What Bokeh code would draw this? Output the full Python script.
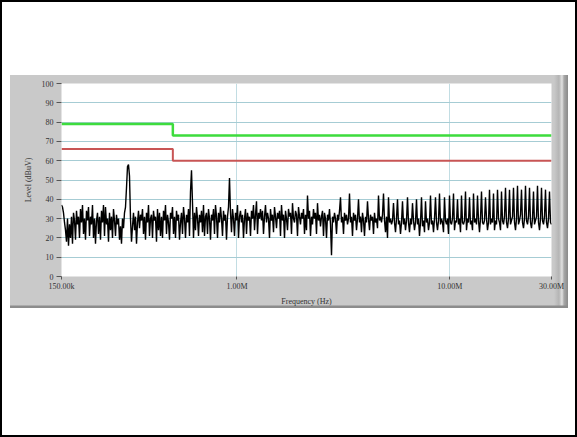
import numpy as np
from bokeh.plotting import figure
from bokeh.models import FixedTicker, Spacer
from bokeh.layouts import column, row
from bokeh.embed import file_html
from bokeh.resources import INLINE

# ---- data ----
x_ticks = [150e3, 1e6, 10e6, 30e6]
x_tick_labels = ["150.00k", "1.00M", "10.00M", "30.00M"]
y_ticks = [0, 10, 20, 30, 40, 50, 60, 70, 80, 90, 100]

limit_qp_freq = [150e3, 500e3, 500e3, 30e6]
limit_qp_level = [79, 79, 73, 73]
limit_av_freq = [150e3, 500e3, 500e3, 30e6]
limit_av_level = [66, 66, 60, 60]

trace_a = [37, 36, 33, 28, 24, 18, 30, 16, 27, 20, 31, 17, 33, 29, 19, 34, 27, 31, 20, 35,
           28, 37, 22, 30, 19, 34, 29, 36, 21, 31, 27, 37, 20, 30, 17, 29, 33, 22, 31, 19,
           34, 28, 37, 21, 36, 27, 30, 18, 33, 24, 31, 20, 35, 29, 21, 32, 27, 30, 19, 26,
           17, 30, 25, 33, 36, 46, 57, 58, 52, 30, 18, 26, 33, 24, 31, 17, 28, 34, 25, 32,
           29, 35, 22, 31, 19, 33, 28, 37, 21, 30, 32, 20, 34, 29, 31, 18, 35, 24, 33, 21]
trace_b = [31, 20, 34, 29, 37, 22, 32, 28, 19, 33, 30, 36, 22, 31, 20, 34, 29, 32, 19, 28,
           33, 22, 36, 30, 20, 32, 28, 35, 21, 44, 55, 38, 20, 33, 24, 36, 30, 21, 32, 28,
           34, 23, 37, 21, 31, 33, 22, 35, 30, 19, 32, 29, 35, 22, 37, 31, 20, 33, 28, 36,
           30, 21, 34, 29, 32, 19, 31, 36, 51, 33, 23, 35, 30, 21, 33, 29, 37, 20, 31, 34,
           28, 32, 20, 30, 35, 22, 33, 29, 31, 21, 34, 30, 37, 24, 32, 39, 22, 33, 30, 35]
trace_c = [29, 34, 22, 31, 37, 28, 33, 30, 20, 35, 29, 32, 23, 36, 31, 25, 33, 30, 34, 21,
           37, 29, 32, 20, 34, 30, 24, 35, 31, 33, 22, 38, 30, 28, 34, 32, 21, 36, 31, 27,
           33, 30, 35, 22, 32, 24, 42, 30, 34, 21, 31, 27, 35, 30, 33, 22, 38, 29, 32, 26,
           31, 34, 21, 33, 30, 20, 32, 29, 35, 27, 11, 31, 28, 33, 30, 22, 32, 29, 34, 41,
           28, 31, 22, 33, 29, 32, 27, 30, 43, 28, 31, 21, 33, 29, 32, 24, 30, 40, 28, 31,
           23, 33, 29, 21, 31, 28, 39, 30, 24, 32, 29, 31, 22, 33, 28, 30, 25, 42, 29, 31,
           28, 32, 43, 29, 23, 31, 20, 41, 28, 30]
trace_d = [27, 29, 38, 28, 23, 30, 40, 27, 29, 22, 28, 39, 27, 30, 24, 29, 41, 28, 23, 30,
           27, 38, 29, 24, 28, 40, 27, 30, 21, 28, 41, 26, 29, 23, 39, 28, 30, 24, 28, 42,
           27, 29, 23, 30, 41, 28, 24, 29, 43, 27, 30, 28, 23, 41, 29, 27, 30, 22, 42, 28,
           27, 30, 43, 24, 29, 28, 40, 27, 30, 23, 42, 28, 27, 29, 44, 24, 30, 28, 41, 27,
           29, 24, 43, 28, 30, 27, 42, 29, 23, 30, 44, 28, 27, 29, 41, 30, 24, 28, 45, 27,
           30, 28, 43, 24, 29, 27, 45, 30, 28, 24, 44, 29, 27, 31, 46, 28, 25, 30, 45, 27,
           29, 31, 46, 28, 24, 30, 47, 27, 29, 32, 45, 28, 25, 30, 47, 29, 27, 31, 46, 28,
           25, 30, 44, 27, 29, 31, 47, 28, 24, 30, 46, 29, 27, 31, 45, 28, 25, 30, 44, 28, 27]

levels = trace_a + trace_b + trace_c + trace_d
freqs = np.geomspace(150e3, 30e6, len(levels))  # sweep grid

# ---- figure ----
FONT = "Liberation Serif"

p = figure(x_axis_type="log", x_range=(150e3, 30e6), y_range=(0, 100),
           frame_width=490, frame_height=193,
           min_border_left=51, min_border_right=17, min_border_top=8, min_border_bottom=32,
           output_backend="svg", toolbar_location=None)
p.background_fill_color = "white"
p.border_fill_alpha = 0
p.outline_line_color = None
p.styles = {
    "background": "linear-gradient(to bottom, rgba(0,0,0,0) 230px, #8c8c8c 231px), "
                  "linear-gradient(to right, #c9c9c9 0px, #c9c9c9 544px, #b4b4b4 549px, "
                  "#e2e2e2 552px, #a8a8a8 554px, #8a8a8a 558px)"
}

p.line(limit_qp_freq, limit_qp_level, line_color="#3ddc3d", line_width=2.5)
p.line(limit_av_freq, limit_av_level, line_color="#c85555", line_width=2)
p.line(freqs, levels, line_color="black", line_width=1.4)

p.xaxis.ticker = FixedTicker(ticks=x_ticks, minor_ticks=[])
p.xaxis.major_label_overrides = {t: l for t, l in zip(x_ticks, x_tick_labels)}
p.yaxis.ticker = FixedTicker(ticks=y_ticks, minor_ticks=[])

for ax in (p.xaxis[0], p.yaxis[0]):
    ax.axis_line_color = None
    ax.major_tick_in = 0
    ax.major_tick_line_color = "#555555"
    ax.minor_tick_line_color = None
    ax.major_label_text_font = FONT
    ax.major_label_text_font_size = "8px"
    ax.major_label_text_color = "#333333"
    ax.axis_label_text_font = FONT
    ax.axis_label_text_font_size = "8px"
    ax.axis_label_text_font_style = "normal"
    ax.axis_label_text_color = "#333333"

p.xaxis.major_tick_out = 3
p.xaxis.major_label_standoff = 2
p.xaxis.axis_label = "Frequency (Hz)"
p.xaxis.axis_label_standoff = 3
p.yaxis.major_tick_out = 5
p.yaxis.major_label_standoff = 3
p.yaxis.axis_label = "Level (dBuV)"
p.yaxis.axis_label_standoff = 6

p.xgrid.ticker = FixedTicker(ticks=[1e6, 10e6], minor_ticks=[])
p.xgrid.grid_line_color = "#c2dde3"
p.ygrid.grid_line_color = "#a6ccd4"

layout = column(
    Spacer(width=577, height=75),
    row(Spacer(width=10, height=233), p, Spacer(width=9, height=233)),
    Spacer(width=577, height=129),
    styles={"outline": "2px solid black", "outline-offset": "-2px"},
)

open("out.html", "w").write(file_html(layout, INLINE))
